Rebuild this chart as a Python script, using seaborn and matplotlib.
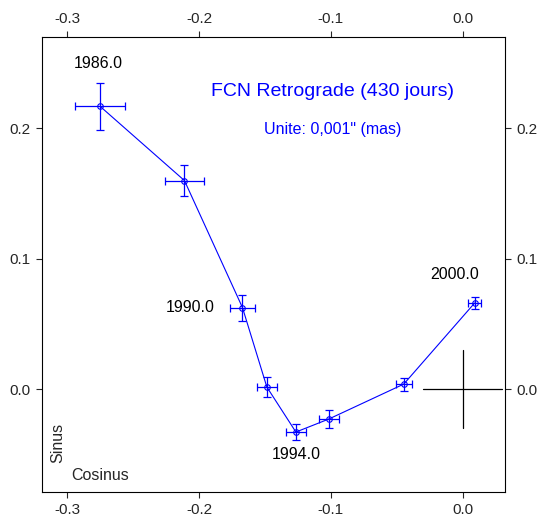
import matplotlib
matplotlib.use("Agg")
import matplotlib.pyplot as plt
import seaborn as sns
import pandas as pd

# Data (cosinus, sinus) in mas-units
cosinus = [-0.275, -0.211, -0.167, -0.1485, -0.1265, -0.1015, -0.0447, 0.009]
sinus = [0.217, 0.160, 0.0625, 0.0015, -0.033, -0.023, 0.0038, 0.066]
err_cos = [0.019, 0.015, 0.0095, 0.0075, 0.0075, 0.0075, 0.006, 0.005]
err_sin = [0.018, 0.012, 0.010, 0.0077, 0.006, 0.007, 0.005, 0.0045]
year_labels = ["1986.0", "1990.0", "1994.0", "2000.0"]
year_index = [0, 2, 4, 7]
xticks = [-0.3, -0.2, -0.1, 0.0]
yticks = [0.0, 0.1, 0.2]
title1 = "FCN Retrograde (430 jours)"
title2 = "Unite: 0,001\" (mas)"
scale_cross = 0.03

sns.set_style("ticks")
plt.rcParams["font.family"] = ["Liberation Sans", "DejaVu Sans"]

df = pd.DataFrame({"cosinus": cosinus, "sinus": sinus})

fig = plt.figure(figsize=(5.44, 5.17), dpi=100)
ax = fig.add_axes([0.0772, 0.0484, 0.851, 0.8796])

blue = "#0000ff"
sns.lineplot(data=df, x="cosinus", y="sinus", sort=False, ax=ax, color=blue,
             linewidth=0.8, marker="o", markersize=4, markerfacecolor="none",
             markeredgecolor=blue, markeredgewidth=0.8)
ax.errorbar(cosinus, sinus, xerr=err_cos, yerr=err_sin, fmt="none",
            ecolor=blue, elinewidth=0.9, capsize=3, capthick=0.9)

# scale cross
ax.plot([-scale_cross, scale_cross], [0, 0], color="black", linewidth=0.9)
ax.plot([0, 0], [-scale_cross, scale_cross], color="black", linewidth=0.9)

# year labels
offsets = {0: (-0.001, 0.033, "center"), 2: (-0.0212, 0.0, "right"),
           4: (0.0, -0.0176, "center"), 7: (-0.0155, 0.022, "center")}
for lab, i in zip(year_labels, year_index):
    dx, dy, ha = offsets[i]
    ax.text(cosinus[i] + dx, sinus[i] + dy, lab, ha=ha, va="center",
            fontsize=11.5, color="black")

ax.text(-0.0985, 0.2285, title1, ha="center", va="center", color=blue, fontsize=14)
ax.text(-0.0985, 0.1990, title2, ha="center", va="center", color=blue, fontsize=11.5)

ax.text(-0.3072, -0.0414, "Sinus", rotation=90, ha="center", va="center", fontsize=11.5)
ax.text(-0.2968, -0.0662, "Cosinus", ha="left", va="center", fontsize=11.5)

ax.set_xlim(-0.319, 0.032)
ax.set_ylim(-0.079, 0.27)
ax.set_xticks(xticks)
ax.set_yticks(yticks)
ax.set_xticklabels([f"{v:.1f}" for v in xticks])
ax.set_yticklabels([f"{v:.1f}" for v in yticks])
ax.set_xlabel("")
ax.set_ylabel("")
ax.tick_params(axis="both", direction="out", length=4, width=0.8, labelsize=11,
               top=True, right=True, labeltop=True, labelright=True)
ax.tick_params(axis="x", pad=4)
ax.tick_params(axis="y", pad=4)
for s in ax.spines.values():
    s.set_visible(True)
    s.set_linewidth(0.8)
    s.set_color("black")

fig.savefig("out.png", dpi=100, facecolor="white")
